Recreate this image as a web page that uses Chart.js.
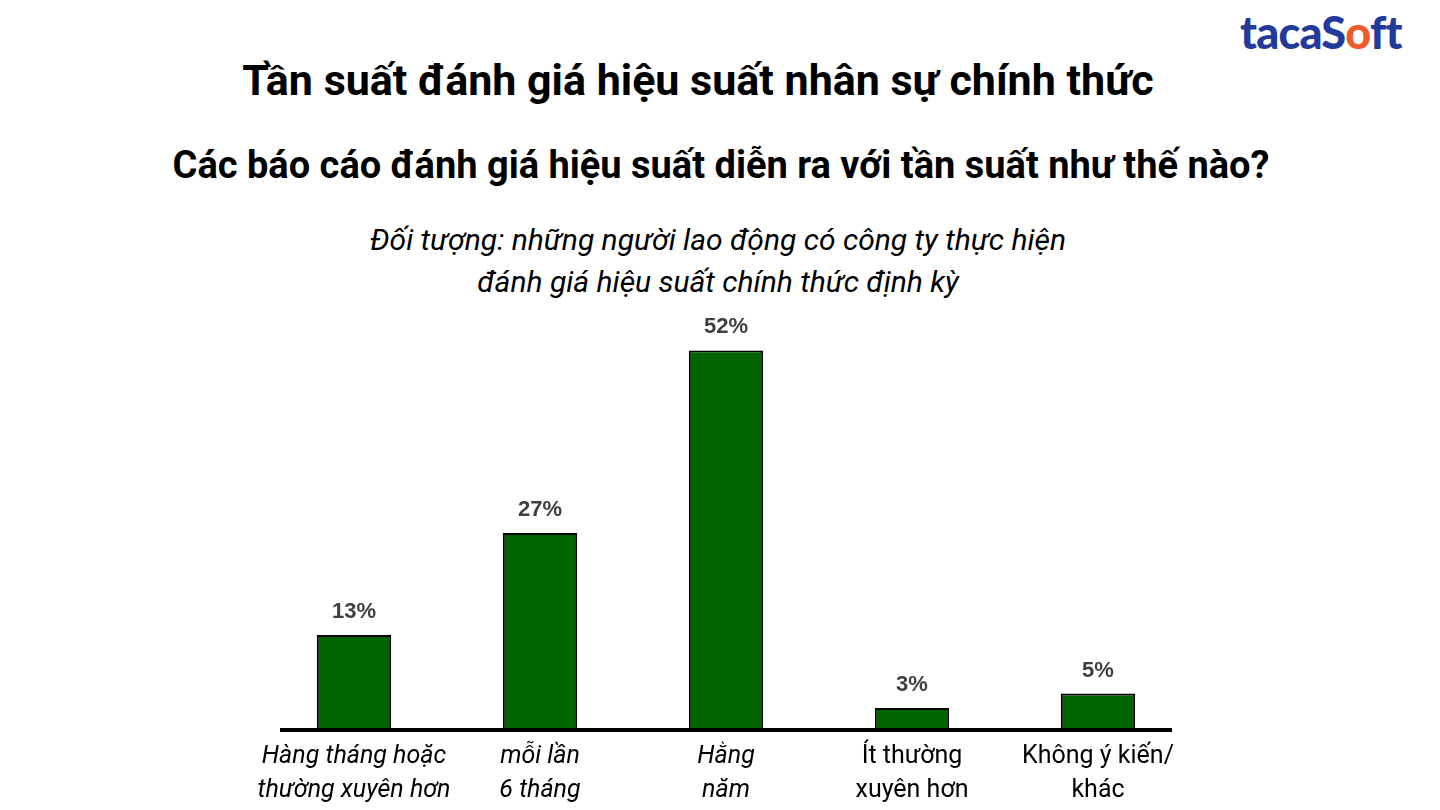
<!DOCTYPE html>
<html>
<head>
<meta charset="utf-8">
<script src="https://cdn.jsdelivr.net/npm/chart.js@4.4.1/dist/chart.umd.min.js"></script>
<style>
  html, body { margin: 0; padding: 0; background: #fff; }
  body { width: 1440px; height: 810px; position: relative; overflow: hidden; font-family: Roboto, "Noto Sans", sans-serif; color: #000; }
  #chart { position: absolute; left: 0; top: 0; }
  .t1 { position: absolute; left: 0; width: 1396px; top: 54px; text-align: center; font-weight: 700; font-size: 43px; line-height: 52px; }
  .t2 { position: absolute; left: 0; width: 1442px; top: 142px; text-align: center; font-weight: 700; font-size: 38px; line-height: 46px; }
  .t3 { position: absolute; left: 0; width: 1436px; top: 219px; text-align: center; font-style: italic; font-size: 30px; line-height: 42px; }
  .logo { position: absolute; left: 1240px; top: 5px; font-family: Lato, Roboto, sans-serif; font-weight: 900; font-size: 45px; color: #223a9a; letter-spacing: -0.8px; }
  .logo span { color: #f05a28; }
</style>
</head>
<body>
<div class="logo">tacaS<span>o</span>ft</div>
<div class="t1">Tần suất đánh giá hiệu suất nhân sự chính thức</div>
<div class="t2">Các báo cáo đánh giá hiệu suất diễn ra với tần suất như thế nào?</div>
<div class="t3">Đối tượng: những người lao động có công ty thực hiện<br>đánh giá hiệu suất chính thức định kỳ</div>
<canvas id="chart" width="1440" height="818"></canvas>
<script>
// Chart data
const categories = [
    ['Hàng tháng hoặc', 'thường xuyên hơn'],
    ['mỗi lần', '6 tháng'],
    ['Hằng', 'năm'],
    ['Ít thường', 'xuyên hơn'],
    ['Không ý kiến/', 'khác']
];
const percentages = [13, 27, 52, 3, 5];
const italicLabels = [true, true, true, false, false];

// value labels above each bar
const valueLabels = {
    id: 'valueLabels',
    afterDatasetsDraw(chart) {
        const ctx = chart.ctx;
        const meta = chart.getDatasetMeta(0);
        ctx.save();
        ctx.font = 'bold 22px "Liberation Sans", Arial, sans-serif';
        ctx.fillStyle = '#404040';
        ctx.textAlign = 'center';
        ctx.textBaseline = 'bottom';
        meta.data.forEach((bar, i) => {
            ctx.fillText(percentages[i] + '%', bar.x, bar.y - 12);
        });
        ctx.restore();
    }
};

// thick baseline, a bit shorter than the chart area
const baseline = {
    id: 'baseline',
    afterDatasetsDraw(chart) {
        const ctx = chart.ctx;
        const y = chart.scales.y.getPixelForValue(0);
        ctx.save();
        ctx.strokeStyle = '#000';
        ctx.lineWidth = 4;
        ctx.beginPath();
        ctx.moveTo(chart.chartArea.left + 19, y);
        ctx.lineTo(chart.chartArea.right - 19, y);
        ctx.stroke();
        ctx.restore();
    }
};

new Chart(document.getElementById('chart').getContext('2d'), {
    type: 'bar',
    data: {
        labels: categories,
        datasets: [{
            data: percentages,
            backgroundColor: '#006400',
            borderColor: '#000',
            borderWidth: 2,
            borderSkipped: false,
            categoryPercentage: 1,
            barPercentage: 0.4
        }]
    },
    options: {
        responsive: false,
        animation: false,
        layout: { padding: { left: 261, right: 249, top: 292, bottom: 0 } },
        plugins: {
            legend: { display: false },
            tooltip: { enabled: false }
        },
        scales: {
            y: {
                display: false,
                min: 0,
                max: 60
            },
            x: {
                grid: { display: false, drawTicks: false },
                border: { display: false },
                ticks: {
                    color: '#000',
                    padding: 10,
                    maxRotation: 0,
                    autoSkip: false,
                    font: (c) => ({
                        family: 'Roboto, sans-serif',
                        size: 25,
                        style: italicLabels[c.index] ? 'italic' : 'normal',
                        lineHeight: 1.36
                    })
                }
            }
        }
    },
    plugins: [valueLabels, baseline]
});
</script>
</body>
</html>
